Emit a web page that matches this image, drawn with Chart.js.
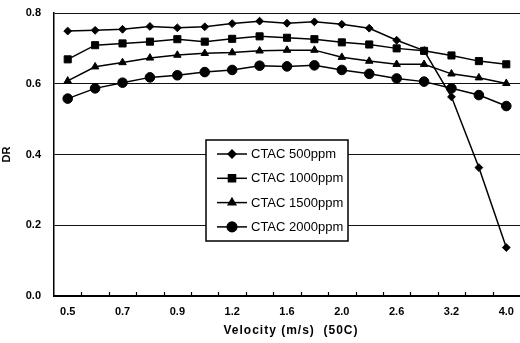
<!DOCTYPE html>
<html>
<head>
<meta charset="utf-8">
<script src="https://cdn.jsdelivr.net/npm/chart.js@4/dist/chart.umd.min.js"></script>
<style>
  html, body { margin: 0; padding: 0; background: #fff; }
  #wrap { width: 520px; height: 343px; }
</style>
</head>
<body>
<div id="wrap"><canvas id="c" width="520" height="343"></canvas></div>
<script>
// Flow velocity (m/s) at 50C
const velocity = ['0.5','0.6','0.7','0.8','0.9','1.0','1.2','1.4','1.6','1.8','2.0','2.3','2.6','2.9','3.2','3.6','4.0'];
// Drag reduction for each CTAC concentration
const ctac500  = [0.749,0.751,0.754,0.762,0.758,0.761,0.770,0.777,0.771,0.775,0.768,0.757,0.723,0.694,0.563,0.363,0.137];
const ctac1000 = [0.669,0.709,0.714,0.719,0.726,0.719,0.727,0.734,0.730,0.726,0.717,0.711,0.700,0.693,0.680,0.664,0.655];
const ctac1500 = [0.608,0.648,0.660,0.673,0.681,0.686,0.688,0.693,0.695,0.695,0.675,0.664,0.655,0.655,0.628,0.617,0.601];
const ctac2000 = [0.558,0.587,0.603,0.618,0.624,0.633,0.639,0.651,0.649,0.652,0.639,0.628,0.615,0.606,0.587,0.568,0.537];
const seriesNames = ['CTAC 500ppm','CTAC 1000ppm','CTAC 1500ppm','CTAC 2000ppm'];
const yTicks = [0, 0.2, 0.4, 0.6, 0.8];

const FONT = "'Liberation Sans', Arial, Helvetica, sans-serif";

function series(label, data, style, radius) {
  return {
    label, data,
    borderColor: '#000', backgroundColor: '#000',
    borderWidth: 1.5,
    pointStyle: style, pointRadius: radius, pointHoverRadius: radius,
    pointBackgroundColor: '#000', pointBorderColor: '#000', pointBorderWidth: 1,
    tension: 0, fill: false, clip: false
  };
}

// Small inward tick marks between categories on the x axis
const innerTicks = {
  id: 'innerTicks',
  afterDraw(chart) {
    const sx = chart.scales.x, ctx = chart.ctx;
    const n = sx.ticks.length;
    ctx.save();
    ctx.strokeStyle = '#000';
    ctx.lineWidth = 1.2;
    for (let i = 1; i < n; i++) {
      const px = Math.round((sx.getPixelForTick(i - 1) + sx.getPixelForTick(i)) / 2) + 0.5;
      ctx.beginPath();
      ctx.moveTo(px, sx.top);
      ctx.lineTo(px, sx.top - 4);
      ctx.stroke();
    }
    ctx.restore();
  }
};

// Boxed legend inside the plot area
const boxLegend = {
  id: 'boxLegend',
  afterDatasetsDraw(chart, args, opts) {
    const ctx = chart.ctx;
    const { x, y, w, h, rowStart, rowGap } = opts;
    ctx.save();
    ctx.fillStyle = '#fff';
    ctx.fillRect(x, y, w, h);
    ctx.strokeStyle = '#000';
    ctx.lineWidth = 1.5;
    ctx.strokeRect(x, y, w, h);
    ctx.font = '13px ' + FONT;
    ctx.textBaseline = 'middle';
    ctx.textAlign = 'left';
    chart.data.datasets.forEach((ds, i) => {
      const ry = y + rowStart + i * rowGap;
      ctx.strokeStyle = '#000';
      ctx.lineWidth = 1.5;
      ctx.beginPath();
      ctx.moveTo(x + 11, ry);
      ctx.lineTo(x + 41, ry);
      ctx.stroke();
      ctx.fillStyle = '#000';
      Chart.helpers.drawPoint(ctx, {
        pointStyle: ds.pointStyle, radius: ds.pointRadius, rotation: 0, borderWidth: 1
      }, x + 26, ry);
      ctx.fillStyle = '#000';
      ctx.fillText(ds.label, x + 45, ry + 0.5);
    });
    ctx.restore();
  }
};

new Chart(document.getElementById('c'), {
  type: 'line',
  data: {
    labels: velocity,
    datasets: [
      series(seriesNames[0], ctac500, 'rectRot', 3.9),
      series(seriesNames[1], ctac1000, 'rect', 5),
      series(seriesNames[2], ctac1500, 'triangle', 4.3),
      series(seriesNames[3], ctac2000, 'circle', 4.8)
    ]
  },
  options: {
    responsive: false,
    animation: false,
    events: [],
    layout: { autoPadding: false, padding: { top: 13, right: -2, left: 0, bottom: 0 } },
    plugins: {
      legend: { display: false },
      tooltip: { enabled: false },
      boxLegend: { x: 206, y: 140, w: 142, h: 101, rowStart: 14, rowGap: 24.3 }
    },
    scales: {
      x: {
        type: 'category',
        offset: true,
        grid: { display: false, drawTicks: false },
        border: { display: true, color: '#000', width: 2 },
        ticks: {
          autoSkip: false, maxRotation: 0, minRotation: 0,
          padding: 9, color: '#000',
          font: { family: FONT, size: 11, weight: 'bold' },
          callback: (v, i) => (i % 2 === 0 ? velocity[i] : '')
        },
        title: {
          display: true, text: 'Velocity (m/s)  (50C)', color: '#000',
          font: { family: FONT, size: 12, weight: 'bold' },
          padding: { top: 0, bottom: 5 }
        },
        afterFit(s) {
          s.height = 47;
          s.paddingLeft = 0;
          s.paddingRight = 0;
          if (!s._spacedTitle) {
            const orig = s.drawTitle;
            s.drawTitle = function () {
              const ctx = this.ctx;
              ctx.save();
              ctx.letterSpacing = '1px';
              ctx.translate(4, 0);
              orig.apply(this, arguments);
              ctx.restore();
            };
            s._spacedTitle = true;
          }
        }
      },
      y: {
        min: 0, max: 0.8,
        afterBuildTicks(s) { s.ticks = yTicks.map(v => ({ value: v })); },
        grid: { color: '#111', lineWidth: 1, drawTicks: false },
        border: { display: true, color: '#000', width: 1.5 },
        ticks: {
          padding: 13, color: '#000',
          font: { family: FONT, size: 11, weight: 'bold' },
          callback: v => Number(v).toFixed(1)
        },
        title: {
          display: true, text: 'DR', color: '#000',
          font: { family: FONT, size: 11, weight: 'bold' },
          padding: { top: 0, bottom: 3 }
        },
        afterFit(s) {
          s.width = 54;
          s.paddingTop = 0;
          s.paddingBottom = 0;
        }
      }
    }
  },
  plugins: [innerTicks, boxLegend]
});
</script>
</body>
</html>
